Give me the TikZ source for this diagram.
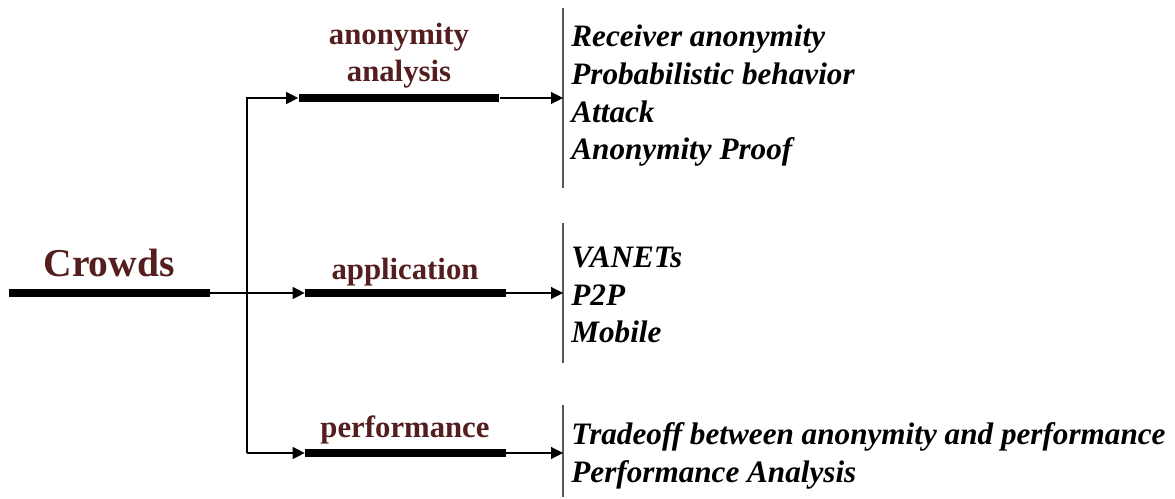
\documentclass[tikz,border=0pt]{standalone}
\usepackage{fontspec}
\setmainfont{Liberation Serif}
\usetikzlibrary{arrows.meta}
\definecolor{maroon}{RGB}{84,30,30}
\tikzset{%
    bar/.style={rectangle, fill=black, inner sep=0pt, minimum width=4.02cm, minimum height=4.3pt},
    lbl/.style={text=maroon, font=\fontsize{17.5}{21.6}\selectfont\bfseries, align=center, anchor=base},
    lst/.style={font=\fontsize{17.75}{21.6}\selectfont\bfseries\itshape, align=left, anchor=base west, inner sep=0pt},
    arr/.style={line width=0.6pt, -{Triangle[length=6.8pt, width=6.8pt]}},
    sep/.style={line width=0.8pt, black!65}
}

\begin{document}
\begin{tikzpicture}[x=0.02cm, y=-0.02cm]
    \useasboundingbox (0,0) rectangle (1175,499);
    % bars
    \node[bar] (crowdsbar) at (109.5,293) {};
    \node[bar] (anabar) at (399,98) {};
    \node[bar] (appbar) at (405.5,293) {};
    \node[bar] (perfbar) at (405.5,453) {};
    % labels (anchored at the last baseline)
    \node[lbl, font=\fontsize{22.5}{27}\selectfont\bfseries] (crowds) at (109,277) {Crowds};
    \node[lbl] (ana) at (399,82) {anonymity\\analysis};
    \node[lbl] (app) at (405,280) {application};
    \node[lbl] (perf) at (405,437) {performance};
    % lists
    \coordinate (s1t) at (563,8); \coordinate (s1b) at (563,188);
    \coordinate (s2t) at (563,223); \coordinate (s2b) at (563,363);
    \coordinate (s3t) at (563,405); \coordinate (s3b) at (563,497);
    \draw[sep] (s1t) -- (s1b) (s2t) -- (s2b) (s3t) -- (s3b);
    \node[lst] (l1) at (571,160) {Receiver anonymity\\Probabilistic behavior\\Attack\\Anonymity Proof};
    \node[lst] (l2) at (571,343) {VANETs\\P2P\\Mobile};
    \node[lst] (l3) at (571,482) {Tradeoff between anonymity and performance\\Performance Analysis};
    % arrows
    \coordinate (ft) at (247,98); \coordinate (fb) at (247,453);
    \draw[arr] (crowdsbar.east) -- (appbar.west);
    \draw[arr] (fb) -- (ft) -- (anabar.west);
    \draw[arr] (fb) -- (perfbar.west);
    \draw[arr] (anabar.east) -- (anabar.east -| s1t);
    \draw[arr] (appbar.east) -- (appbar.east -| s2t);
    \draw[arr] (perfbar.east) -- (perfbar.east -| s3t);
\end{tikzpicture}
\end{document}
